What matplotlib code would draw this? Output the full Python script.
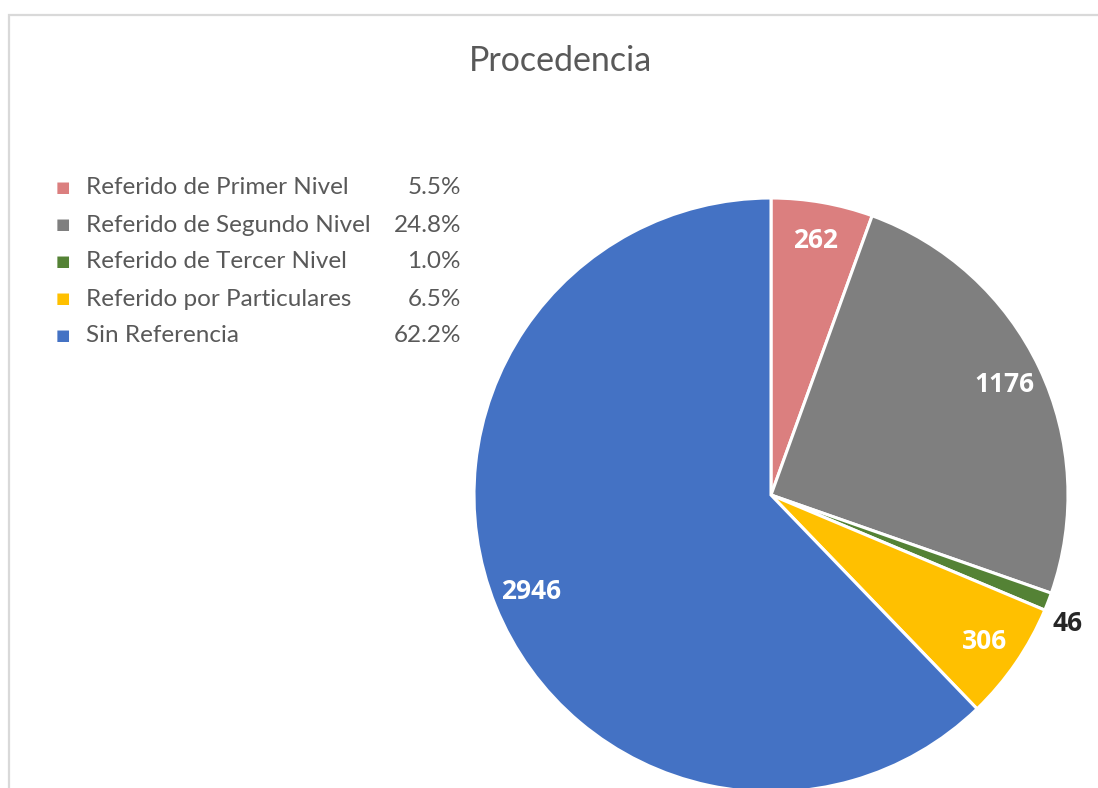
import matplotlib.pyplot as plt
import numpy as np
from matplotlib.patches import Rectangle

categories = ["Referido de Primer Nivel", "Referido de Segundo Nivel",
              "Referido de Tercer Nivel", "Referido por Particulares",
              "Sin Referencia"]
counts = [262, 1176, 46, 306, 2946]
colors = ["#db7f7f", "#7f7f7f", "#548235", "#ffc000", "#4472c4"]

W, H = 1098, 788
fig = plt.figure(figsize=(W / 100, H / 100), dpi=100)
plt.rcParams['font.family'] = ['Lato', 'DejaVu Sans']

# light chart-area frame (left and top edges visible)
fig.patches.append(Rectangle((9 / W, -0.1), 1.2, (H - 15) / H + 0.1,
                             transform=fig.transFigure, fill=False,
                             edgecolor="#d9d9d9", linewidth=1.6))

fig.text(560 / W, 1 - 61 / H, "Procedencia", ha='center', va='center',
         fontsize=24.5, color="#595959")

# pie: centre (771, 495), radius 297 px
cx, cy, r = 771, 495, 297
ax = fig.add_axes([(cx - r) / W, (H - cy - r) / H, 2 * r / W, 2 * r / H])
wedges, _ = ax.pie(counts, colors=colors, startangle=90, counterclock=False,
                   radius=1, wedgeprops=dict(edgecolor='white', linewidth=2.2))
ax.set_xlim(-1, 1)
ax.set_ylim(-1, 1)
ax.set_aspect('equal')
ax.axis('off')

for w, n in zip(wedges, counts):
    mid = np.deg2rad((w.theta1 + w.theta2) / 2)
    if n / sum(counts) < 0.02:
        mid -= np.deg2rad(2.4)
        d, c = 1.09, "#262626"
    else:
        d, c = 0.87, "white"
    ax.text(d * np.cos(mid), d * np.sin(mid), str(n), ha='center', va='center',
            fontsize=19, fontweight='bold', color=c,
            family=['Open Sans', 'DejaVu Sans'])

# legend with percentage column
total = sum(counts)
for i, (lab, n, col) in enumerate(zip(categories, counts, colors)):
    y = 1 - (188 + 37 * i) / H
    fig.text(63 / W, y, "\u25A0", ha='center', va='center', fontsize=11, color=col)
    fig.text(86 / W, y, lab, ha='left', va='center', fontsize=17.5, color="#595959")
    fig.text(461 / W, y, f"{100 * n / total:.1f}%", ha='right', va='center',
             fontsize=17.5, color="#595959")

plt.savefig("out.png", dpi=100)
